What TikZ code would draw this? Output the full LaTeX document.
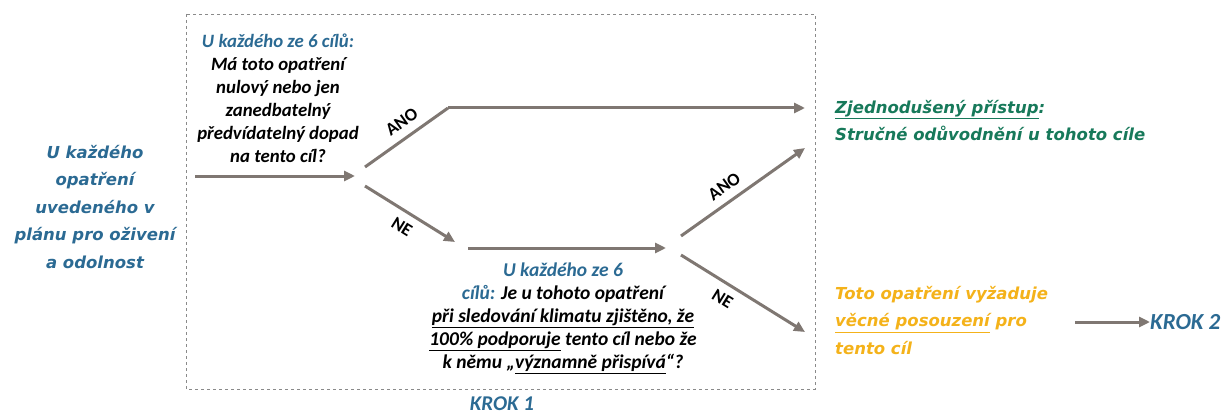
\documentclass[tikz,border=0pt]{standalone}
\usepackage{fontspec}
\usetikzlibrary{arrows.meta,positioning}
\setmainfont{Carlito}
\newfontfamily\widefont{DejaVu Sans}
\definecolor{stepblue}{HTML}{2B6A93}
\definecolor{simplegreen}{HTML}{17795A}
\definecolor{detailorange}{HTML}{F4B21A}
\definecolor{arrowgray}{HTML}{7F7772}
\definecolor{framegray}{HTML}{8A8A8A}
\newcommand{\qfont}{\fontsize{18.8}{23}\selectfont\bfseries\itshape}
\newcommand{\wfont}{\widefont\fontsize{16.5}{27.5}\selectfont\bfseries\itshape}
\newcommand{\kfont}{\fontsize{23}{25}\selectfont\bfseries\itshape}

\tikzset{
  arr/.style={draw=arrowgray, line width=3pt, -{Triangle[length=11pt,width=10pt]}},
  ln/.style={draw=arrowgray, line width=3pt},
  yesno/.style={font=\fontsize{18}{20}\selectfont\bfseries, sloped, inner sep=8pt},
  question/.style={align=center, font=\qfont, inner sep=0pt},
  result/.style={align=left, font=\wfont, inner sep=0pt, anchor=north west}
}

\begin{document}
\begin{tikzpicture}[x=1pt, y=-1pt]
\useasboundingbox (0,0) rectangle (1223,417);
\draw[framegray, dashed, line width=0.8pt] (186,14) rectangle (815,389);

\node[align=center, font=\wfont, text=stepblue, inner sep=0pt] (measure) at (95,207)
  {U každého\\opatření\\uvedeného v\\plánu pro oživení\\a odolnost};

\node[question] (q1) at (278,98)
  {\textcolor{stepblue}{U každého ze 6 cílů:}\\Má toto opatření\\nulový nebo jen\\zanedbatelný\\předvídatelný dopad\\na tento cíl?};

\node[question, font=\fontsize{19.5}{23}\selectfont\bfseries\itshape] (q2) at (563,318)
  {\textcolor{stepblue}{U každého ze 6}\\\textcolor{stepblue}{cílů:} Je u tohoto opatření\\\underline{při sledování klimatu zjištěno, že}\\\underline{100\% podporuje} tento cíl nebo že\\k němu „\underline{významně přispívá}“?};

\node[result, text=simplegreen] (simple) at (835,100)
  {\underline{Zjednodušený přístup}:\\Stručné odůvodnění u tohoto cíle};

\node[result, text=detailorange] (detail) at (835,286)
  {Toto opatření vyžaduje\\\underline{věcné posouzení} pro\\tento cíl};

\node[font=\kfont, text=stepblue, anchor=west, inner sep=0pt] (krok2) at (1150,322) {KROK 2};
\node[font=\fontsize{21}{23}\selectfont\bfseries\itshape, text=stepblue, inner sep=0pt] (krok1) at (502,404) {KROK 1};

\coordinate (in1) at (195,176);
\coordinate (out1) at (355,176);
\coordinate (yes1a) at (365,167);
\coordinate (yes1b) at (448,108);
\coordinate (yes1c) at (805,108);
\coordinate (no1a) at (365,186);
\coordinate (no1b) at (455,242);
\coordinate (in2) at (468,248);
\coordinate (out2) at (666,248);
\coordinate (yes2a) at (681,236);
\coordinate (yes2b) at (805,148);
\coordinate (no2a) at (681,255);
\coordinate (no2b) at (805,332);
\coordinate (go2) at (1075,322);

\draw[arr] (in1) -- (out1);
\draw[ln] (yes1a) -- node[yesno, above, pos=0.55] (ano1) {ANO} (yes1b);
\draw[arr] (yes1b) -- (yes1c);
\draw[arr] (no1a) -- node[yesno, below, pos=0.5] (ne1) {NE} (no1b);
\draw[arr] (in2) -- (out2);
\draw[arr] (yes2a) -- node[yesno, above, pos=0.42] (ano2) {ANO} (yes2b);
\draw[arr] (no2a) -- node[yesno, below, pos=0.4] (ne2) {NE} (no2b);
\draw[arr] (go2) -- (krok2.west);
\end{tikzpicture}
\end{document}
